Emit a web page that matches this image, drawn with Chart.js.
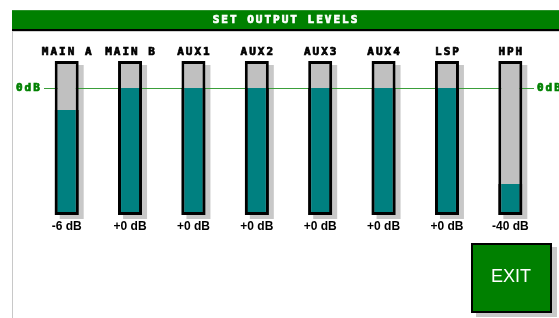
<!DOCTYPE html>
<html>
<head>
<meta charset="utf-8">
<script src="https://cdn.jsdelivr.net/npm/chart.js@4"></script>
<style>
  body { margin: 0; background: #fff; }
  canvas { display: block; }
</style>
</head>
<body>
<canvas id="levels" width="559" height="318"></canvas>
<script>
const channels = ['MAIN A', 'MAIN B', 'AUX1', 'AUX2', 'AUX3', 'AUX4', 'LSP', 'HPH']
const levelLabels = ['-6 dB', '+0 dB', '+0 dB', '+0 dB', '+0 dB', '+0 dB', '+0 dB', '-40 dB']
// fader position, 0 = bottom of travel, 100 = top
const faderPos = [68.2, 82.5, 82.5, 82.5, 82.5, 82.5, 82.5, 20.1]
const faderTop = [100, 100, 100, 100, 100, 100, 100, 100]
const zeroDbPos = 82.5
const zeroDbText = '0dB'
const titleText = 'SET OUTPUT LEVELS'

const pixelFont = 'bold 11px "DejaVu Sans Mono", monospace'

// bold bitmap-ish text: fill plus a thin stroke to thicken the strokes
function heavyText(c, txt, x, y, color) {
    c.fillStyle = color
    c.strokeStyle = color
    c.lineWidth = 0.7
    c.fillText(txt, x, y)
    c.strokeText(txt, x, y)
}

const panel = {
    id: 'panel',
    beforeDraw(chart) {
        const c = chart.ctx
        c.save()
        c.fillStyle = '#fff'
        c.fillRect(0, 0, chart.width, chart.height)
        // left rule
        c.fillStyle = '#c8c8c8'
        c.fillRect(12, 10, 1, chart.height - 10)
        // title bar
        c.fillStyle = '#008000'
        c.fillRect(12, 10, chart.width - 12, 19)
        c.fillStyle = '#2a922a'
        c.fillRect(12, 10, chart.width - 12, 1)
        c.fillStyle = '#000'
        c.fillRect(12, 29, chart.width - 12, 2)
        c.fillStyle = '#d0d0d0'
        c.fillRect(13, 31, chart.width - 13, 1)
        c.font = pixelFont
        c.letterSpacing = '2px'
        c.textAlign = 'center'
        c.textBaseline = 'middle'
        heavyText(c, titleText, 286, 20, '#fff')
        // exit button
        c.fillStyle = '#c8c8c8'
        c.fillRect(476, 247, 81, 70)
        c.fillStyle = '#000'
        c.fillRect(471, 243, 81, 70)
        c.fillStyle = '#008000'
        c.fillRect(473, 245, 77, 66)
        c.letterSpacing = '0px'
        c.fillStyle = '#fff'
        c.font = '18px "Liberation Sans", Arial, sans-serif'
        c.fillText('EXIT', 511, 277)
        c.restore()
    },
    beforeDatasetsDraw(chart) {
        const c = chart.ctx
        const y = chart.scales.y
        const track = chart.getDatasetMeta(1)
        c.save()
        // drop shadows
        c.fillStyle = '#c8c8c8'
        track.data.forEach(el => {
            c.fillRect(el.x - el.width / 2 + 5, el.y + 4, el.width, el.base - el.y)
        })
        // 0 dB reference line
        const yz = Math.round(y.getPixelForValue(zeroDbPos)) + 0.5
        c.strokeStyle = '#3a9e3a'
        c.lineWidth = 1
        c.beginPath()
        c.moveTo(44, yz)
        c.lineTo(534, yz)
        c.stroke()
        c.font = pixelFont
        c.letterSpacing = '2px'
        c.textBaseline = 'middle'
        c.textAlign = 'left'
        heavyText(c, zeroDbText, 16, yz, '#008000')
        heavyText(c, zeroDbText, 537, yz, '#008000')
        c.restore()
    },
    afterDatasetsDraw(chart) {
        const c = chart.ctx
        const x = chart.scales.x
        c.save()
        c.textAlign = 'center'
        c.textBaseline = 'middle'
        c.font = pixelFont
        c.letterSpacing = '2px'
        channels.forEach((name, i) => {
            heavyText(c, name, x.getPixelForValue(i) + 1, 52, '#000')
        })
        c.letterSpacing = '0px'
        c.fillStyle = '#000'
        c.font = 'bold 12px "Liberation Sans", Arial, sans-serif'
        levelLabels.forEach((lab, i) => {
            c.fillText(lab, x.getPixelForValue(i), 227)
        })
        c.restore()
    }
}

new Chart(document.getElementById('levels'), {
    type: 'bar',
    data: {
        labels: channels,
        datasets: [
            {
                label: 'level',
                data: faderPos,
                backgroundColor: '#008080',
                borderColor: '#000',
                borderWidth: 3,
                borderSkipped: 'top',
                grouped: false,
                barThickness: 24,
                inflateAmount: 0
            },
            {
                label: 'track',
                data: faderTop,
                backgroundColor: '#c0c0c0',
                borderColor: '#000',
                borderWidth: 3,
                borderSkipped: false,
                grouped: false,
                barThickness: 24,
                inflateAmount: 0
            }
        ]
    },
    options: {
        responsive: false,
        animation: false,
        layout: { padding: { left: 35, right: 17, top: 61, bottom: 103 } },
        scales: {
            x: { display: false },
            y: { display: false, min: 0, max: 100 }
        },
        plugins: {
            legend: { display: false },
            tooltip: { enabled: false }
        }
    },
    plugins: [panel]
})
</script>
</body>
</html>
